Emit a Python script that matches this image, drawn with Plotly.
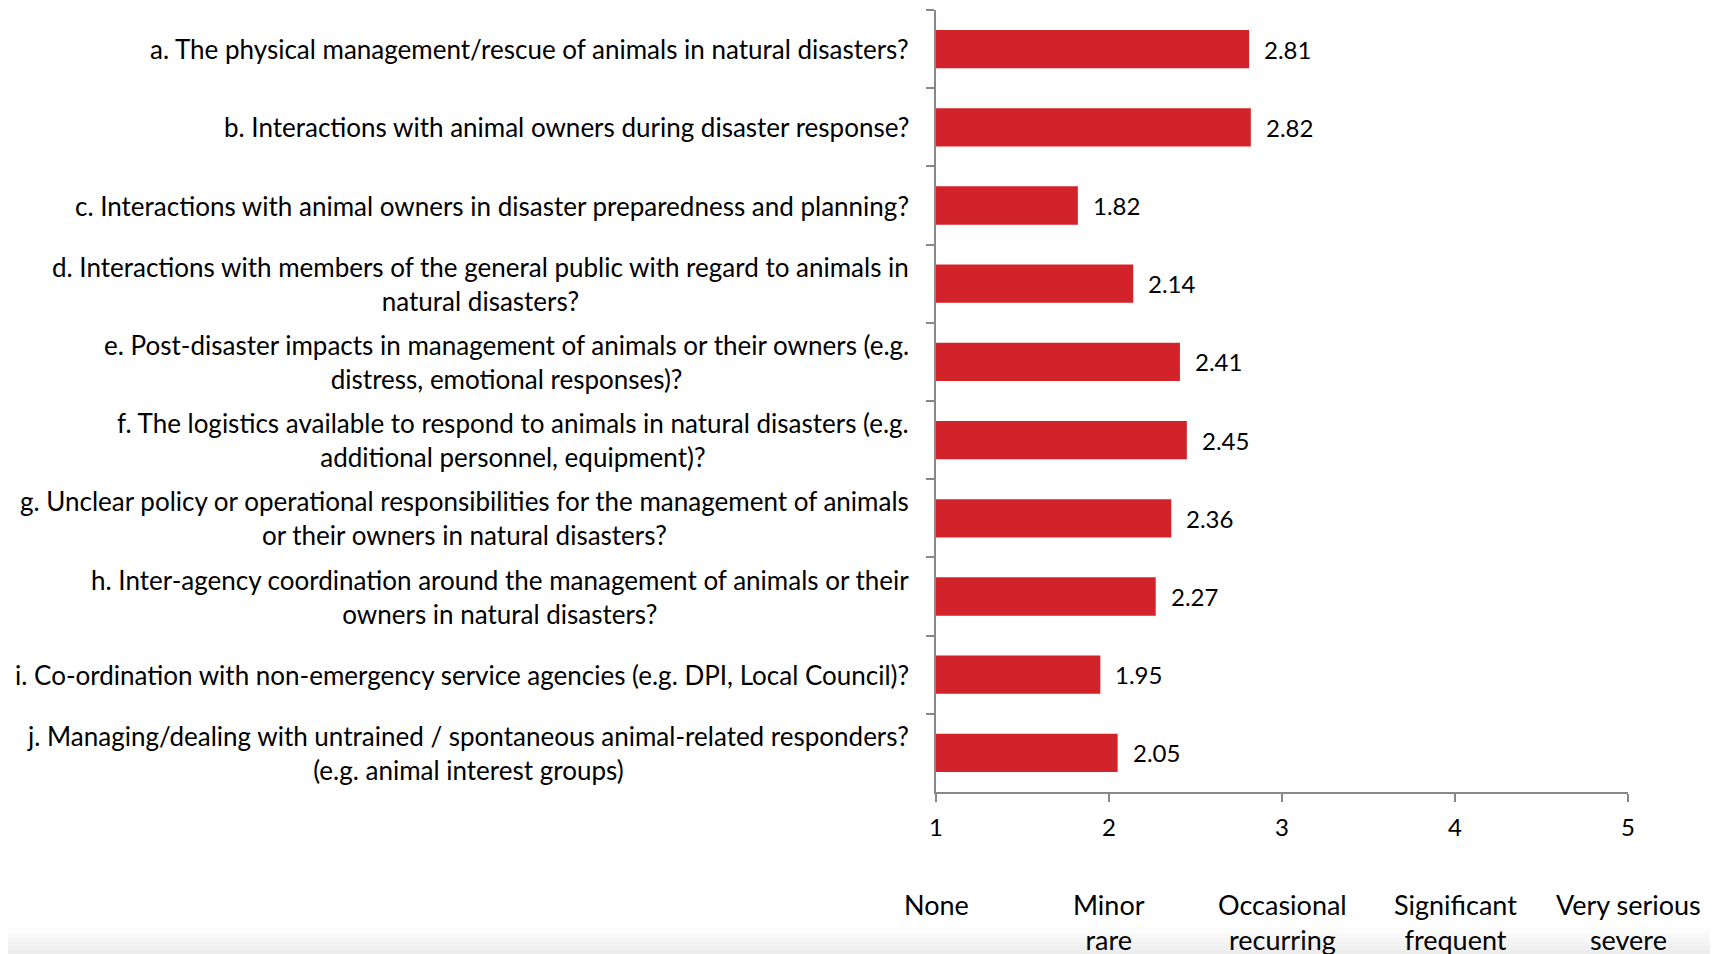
import plotly.graph_objects as go

categories = [
    "a. The physical management/rescue of animals in natural disasters?",
    "b. Interactions with animal owners during disaster response?",
    "c. Interactions with animal owners in disaster preparedness and planning?",
    "d. Interactions with members of the general public with regard to animals in<br>natural disasters?",
    "e. Post-disaster impacts in management of animals or their owners (e.g.<br>distress, emotional responses)?",
    "f. The logistics available to respond to animals in natural disasters (e.g.<br>additional personnel, equipment)?",
    "g. Unclear policy or operational responsibilities for the management of animals<br>or their owners in natural disasters?",
    "h. Inter-agency coordination around the management of animals or their<br>owners in natural disasters?",
    "i. Co-ordination with non-emergency service agencies (e.g. DPI, Local Council)?",
    "j. Managing/dealing with untrained / spontaneous animal-related responders?<br>(e.g. animal interest groups)",
]
values = [2.81, 2.82, 1.82, 2.14, 2.41, 2.45, 2.36, 2.27, 1.95, 2.05]
tick_values = [1, 2, 3, 4, 5]
scale_labels = ["None", "Minor<br>rare", "Occasional<br>recurring", "Significant<br>frequent", "Very serious<br>severe"]

keys = [c.split(".")[0] for c in categories]

FONT = "Lato"
RED = "#D2232A"
AXIS = "#888888"

fig = go.Figure()
fig.add_trace(go.Bar(
    x=values, y=keys, orientation="h", base=0,
    marker=dict(color=RED, line=dict(width=0)),
    hoverinfo="skip",
))

ann = []
for k, c in zip(keys, categories):
    ann.append(dict(
        x=0, xref="x domain", y=k, yref="y", xanchor="right", yanchor="middle",
        xshift=-25, align="center", showarrow=False,
        text=c,
        font=dict(family=FONT, size=26, color="#000000"),
    ))
for k, v in zip(keys, values):
    ann.append(dict(
        x=v, xref="x", y=k, yref="y", xanchor="left", yanchor="middle",
        xshift=13, showarrow=False, text=f"{v:.2f}",
        font=dict(family=FONT, size=24, color="#000000"),
    ))
for t, s in zip(tick_values, scale_labels):
    ann.append(dict(
        x=t, xref="x", y=0, yref="paper", xanchor="center", yanchor="top",
        yshift=-94, align="center", showarrow=False,
        text=s,
        font=dict(family=FONT, size=27, color="#000000"),
    ))

shapes = []
for py in [928, 933, 938, 942, 946, 950]:
    shapes.append(dict(
        type="rect", xref="paper", yref="paper", x0=-2, x1=2,
        y0=(792 - 970) / 782.5, y1=(792 - py) / 782.5,
        fillcolor="rgba(0,0,0,0.012)", line=dict(width=0), layer="above",
    ))

fig.update_layout(
    width=1718, height=954,
    margin=dict(l=928, r=98, t=2, b=170, autoexpand=False),
    paper_bgcolor="white", plot_bgcolor="white",
    showlegend=False, bargap=0.51,
    annotations=ann, shapes=shapes,
    font=dict(family=FONT, size=24, color="#000000"),
    xaxis=dict(
        range=[1, 5], tickvals=tick_values, ticktext=[str(t) for t in tick_values],
        showgrid=False, zeroline=False, showline=True, linecolor=AXIS, linewidth=1.5,
        ticks="outside", ticklen=8, tickcolor=AXIS, tickwidth=1.5,
        ticklabelstandoff=5, tickfont=dict(family=FONT, size=24, color="#000000"),
        fixedrange=True,
    ),
    yaxis=dict(
        categoryorder="array", categoryarray=keys, autorange="reversed",
        showticklabels=False, showgrid=False, zeroline=False,
        showline=True, linecolor=AXIS, linewidth=1.5,
        ticks="outside", ticklen=8, tickcolor=AXIS, tickwidth=1.5,
        tickson="boundaries", fixedrange=True,
    ),
)

fig.write_html("out.html", config={"displayModeBar": False})
